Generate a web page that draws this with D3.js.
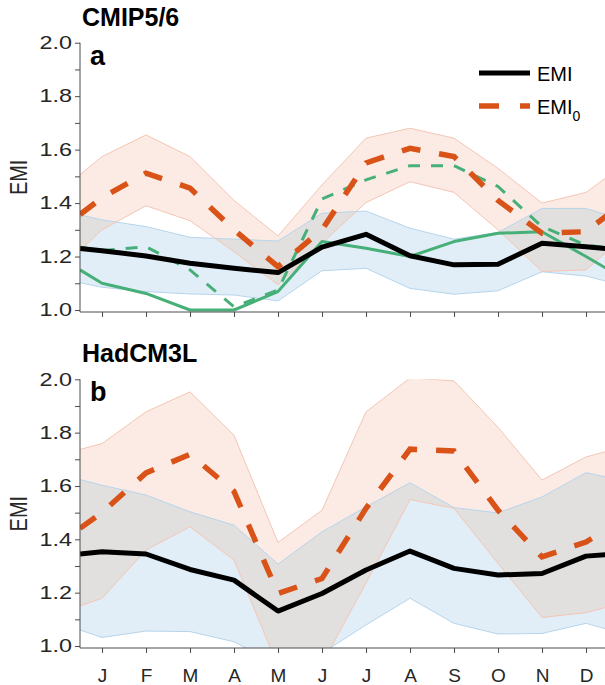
<!DOCTYPE html>
<html>
<head>
<meta charset="utf-8">
<script src="https://cdn.jsdelivr.net/npm/d3@7"></script>
<style>
  html, body { margin: 0; padding: 0; background: #fff; }
  svg { display: block; font-family: "Liberation Sans", Arial, Helvetica, sans-serif; }
  .tick text { fill: #262626; }
</style>
</head>
<body>
<svg id="chart" width="605" height="685"></svg>
<script>
// Month positions: half-month padding at both ends wraps Dec/Jan
const months = ["J", "F", "M", "A", "M", "J", "J", "A", "S", "O", "N", "D"];
const monthPos = [0.5, 1, 2, 3, 4, 5, 6, 7, 8, 9, 10, 11, 12, 12.5];
const yMajorTicks = [1.0, 1.2, 1.4, 1.6, 1.8, 2.0];
const yMinorTicks = [1.1, 1.3, 1.5, 1.7, 1.9];

// Panel a: CMIP5/6 ensemble
const emiA        = [1.230, 1.222, 1.202, 1.175, 1.156, 1.140, 1.235, 1.283, 1.203, 1.169, 1.171, 1.250, 1.237, 1.229];
const emi0A       = [1.357, 1.420, 1.512, 1.456, 1.300, 1.162, 1.300, 1.550, 1.605, 1.574, 1.410, 1.287, 1.293, 1.357];
const emiBandHiA  = [1.356, 1.337, 1.312, 1.272, 1.265, 1.258, 1.362, 1.370, 1.306, 1.265, 1.290, 1.380, 1.380, 1.355];
const emiBandLoA  = [1.102, 1.085, 1.069, 1.060, 1.056, 1.034, 1.147, 1.156, 1.081, 1.059, 1.072, 1.143, 1.127, 1.106];
const emi0BandHiA = [1.506, 1.574, 1.655, 1.574, 1.410, 1.277, 1.468, 1.643, 1.680, 1.643, 1.530, 1.400, 1.440, 1.500];
const emi0BandLoA = [1.222, 1.300, 1.390, 1.334, 1.218, 1.094, 1.250, 1.402, 1.480, 1.440, 1.300, 1.144, 1.150, 1.222];
const emiHadA     = [1.150, 1.100, 1.062, 1.000, 1.000, 1.069, 1.256, 1.231, 1.200, 1.256, 1.287, 1.293, 1.200, 1.152];
const emi0HadA    = [1.235, 1.222, 1.237, 1.150, 1.012, 1.075, 1.415, 1.487, 1.540, 1.540, 1.462, 1.312, 1.243, 1.232];

// Panel b: HadCM3L ensemble
const emiB        = [1.345, 1.353, 1.345, 1.287, 1.247, 1.131, 1.197, 1.285, 1.356, 1.291, 1.266, 1.272, 1.337, 1.343];
const emi0B       = [1.441, 1.500, 1.649, 1.719, 1.580, 1.197, 1.253, 1.516, 1.738, 1.731, 1.509, 1.334, 1.390, 1.441];
const emiBandHiB  = [1.624, 1.603, 1.566, 1.503, 1.453, 1.307, 1.428, 1.522, 1.612, 1.519, 1.499, 1.559, 1.650, 1.632];
const emiBandLoB  = [1.060, 1.032, 1.056, 1.054, 1.016, 0.930, 0.973, 1.079, 1.179, 1.085, 1.045, 1.047, 1.085, 1.062];
const emi0BandHiB = [1.737, 1.759, 1.878, 1.953, 1.790, 1.388, 1.509, 1.878, 2.005, 1.994, 1.820, 1.622, 1.709, 1.731];
const emi0BandLoB = [1.150, 1.179, 1.360, 1.447, 1.322, 0.924, 0.933, 1.236, 1.549, 1.516, 1.310, 1.107, 1.125, 1.147];

const COL_ORANGE = "rgb(217,83,25)";
const COL_GREEN = "#47b079";
const FILL_BLUE = "#e1eef8";
const FILL_ORANGE = "#fbebe4";
const FILL_BOTH = "#e2e0de";
const EDGE_BLUE = "#b6d5ec";
const EDGE_ORANGE = "#f3c6b3";
const COL_AXIS = "#4d4d4d";
const FONT = '"Liberation Sans", Arial, Helvetica, sans-serif';

const svg = d3.select("#chart");
const x = d3.scaleLinear().domain([0.5, 12.5]).range([80, 608]);

function drawPanel(cfg) {
  const y = d3.scaleLinear().domain([1, 2]).range([cfg.bottom, cfg.top]);
  const axisY = cfg.bottom + 2;
  const g = svg.append("g");

  const area = (hi, lo) => d3.area()
    .x((d, i) => x(monthPos[i]))
    .y0((d, i) => y(lo[i]))
    .y1((d, i) => y(hi[i]))(hi);
  const line = d3.line().x((d, i) => x(monthPos[i])).y(d => y(d));

  const clipId = "clip-" + cfg.key;
  svg.append("clipPath").attr("id", clipId)
    .append("rect")
    .attr("x", x(0.5)).attr("y", y(2))
    .attr("width", x(12.5) - x(0.5)).attr("height", axisY - y(2));
  // region of the EMI spread, used to shade where both spreads overlap
  const bandClip = "band-" + cfg.key;
  svg.append("clipPath").attr("id", bandClip)
    .append("path").attr("d", area(cfg.emiHi, cfg.emiLo));

  const plot = g.append("g").attr("clip-path", `url(#${clipId})`);

  plot.append("path").attr("d", area(cfg.emiHi, cfg.emiLo)).attr("fill", FILL_BLUE);
  plot.append("path").attr("d", area(cfg.emi0Hi, cfg.emi0Lo)).attr("fill", FILL_ORANGE);
  plot.append("g").attr("clip-path", `url(#${bandClip})`)
    .append("path").attr("d", area(cfg.emi0Hi, cfg.emi0Lo)).attr("fill", FILL_BOTH);

  [[cfg.emiHi, EDGE_BLUE], [cfg.emiLo, EDGE_BLUE], [cfg.emi0Hi, EDGE_ORANGE], [cfg.emi0Lo, EDGE_ORANGE]]
    .forEach(([s, c]) => plot.append("path").attr("d", line(s))
      .attr("fill", "none").attr("stroke", c).attr("stroke-width", 1));

  if (cfg.had) {
    plot.append("path").attr("d", line(cfg.had)).attr("fill", "none")
      .attr("stroke", COL_GREEN).attr("stroke-width", 3).attr("stroke-linejoin", "round");
    plot.append("path").attr("d", line(cfg.had0)).attr("fill", "none")
      .attr("stroke", COL_GREEN).attr("stroke-width", 3).attr("stroke-dasharray", "12,11");
  }

  plot.append("path").attr("d", line(cfg.emi)).attr("fill", "none")
    .attr("stroke", "#000").attr("stroke-width", 5).attr("stroke-linejoin", "round");
  plot.append("path").attr("d", line(cfg.emi0)).attr("fill", "none")
    .attr("stroke", COL_ORANGE).attr("stroke-width", 5.5).attr("stroke-dasharray", "19,19");

  // y axis: labelled major ticks plus minor ticks
  const yAxis = d3.axisLeft(y).tickValues(yMajorTicks).tickFormat(d3.format(".1f")).tickSize(5).tickPadding(4);
  const ya = g.append("g").attr("transform", `translate(${x(0.5)},0)`).call(yAxis);
  const yMinor = d3.axisLeft(y).tickValues(yMinorTicks).tickFormat("").tickSize(5);
  const ym = g.append("g").attr("transform", `translate(${x(0.5)},0)`).call(yMinor);
  [ya, ym].forEach(s => {
    s.select(".domain").remove();
    s.selectAll("line").attr("stroke", COL_AXIS);
  });
  ya.selectAll("text")
    .style("font-size", "18px").style("font-family", FONT)
    .attr("x", -8 / 1.3).attr("transform", "scale(1.3,1)");

  // x axis
  const xAxis = d3.axisBottom(x).tickValues(d3.range(1, 13)).tickSize(5).tickPadding(16)
    .tickFormat(cfg.labels ? (d => months[d - 1]) : "");
  const xa = g.append("g").attr("transform", `translate(0,${axisY})`).call(xAxis);
  xa.select(".domain").remove();
  xa.selectAll("line").attr("stroke", COL_AXIS);
  xa.selectAll("text").style("font-size", "19px").style("font-family", FONT);

  // axis lines
  g.append("line").attr("x1", x(0.5)).attr("x2", x(0.5)).attr("y1", y(2)).attr("y2", axisY)
    .attr("stroke", COL_AXIS).attr("stroke-width", 1);
  g.append("line").attr("x1", x(0.5)).attr("x2", x(12.5)).attr("y1", axisY).attr("y2", axisY)
    .attr("stroke", COL_AXIS).attr("stroke-width", 1);

  // y axis title
  g.append("text")
    .attr("transform", `translate(27,${(y(2) + axisY) / 2}) rotate(-90) scale(1,1.2)`)
    .attr("text-anchor", "middle")
    .style("font-size", "20px").style("font-family", FONT).attr("fill", "#262626")
    .text("EMI");

  // titles
  g.append("text").attr("x", 82).attr("y", cfg.top - 17)
    .style("font-size", "25px").style("font-weight", "bold").style("font-family", FONT)
    .text(cfg.title);
  g.append("text").attr("x", 90).attr("y", cfg.top + 22)
    .style("font-size", "27px").style("font-weight", "bold").style("font-family", FONT)
    .text(cfg.key);
}

drawPanel({
  key: "a", title: "CMIP5/6", top: 42.7, bottom: 310, labels: false,
  emi: emiA, emi0: emi0A, emiHi: emiBandHiA, emiLo: emiBandLoA,
  emi0Hi: emi0BandHiA, emi0Lo: emi0BandLoA, had: emiHadA, had0: emi0HadA
});
drawPanel({
  key: "b", title: "HadCM3L", top: 379.3, bottom: 646, labels: true,
  emi: emiB, emi0: emi0B, emiHi: emiBandHiB, emiLo: emiBandLoB,
  emi0Hi: emi0BandHiB, emi0Lo: emi0BandLoB
});

// legend
const leg = svg.append("g");
leg.append("line").attr("x1", 479).attr("x2", 530).attr("y1", 73).attr("y2", 73)
  .attr("stroke", "#000").attr("stroke-width", 5);
leg.append("line").attr("x1", 479).attr("x2", 530).attr("y1", 106).attr("y2", 106)
  .attr("stroke", COL_ORANGE).attr("stroke-width", 5.5).attr("stroke-dasharray", "20,21");
leg.append("text").attr("x", 537).attr("y", 81)
  .style("font-size", "20px").style("font-family", FONT).attr("fill", "#000").text("EMI");
const t0 = leg.append("text").attr("x", 537).attr("y", 114)
  .style("font-size", "20px").style("font-family", FONT).attr("fill", "#000");
t0.append("tspan").text("EMI");
t0.append("tspan").attr("dy", 7).style("font-size", "14px").text("0");
</script>
</body>
</html>
